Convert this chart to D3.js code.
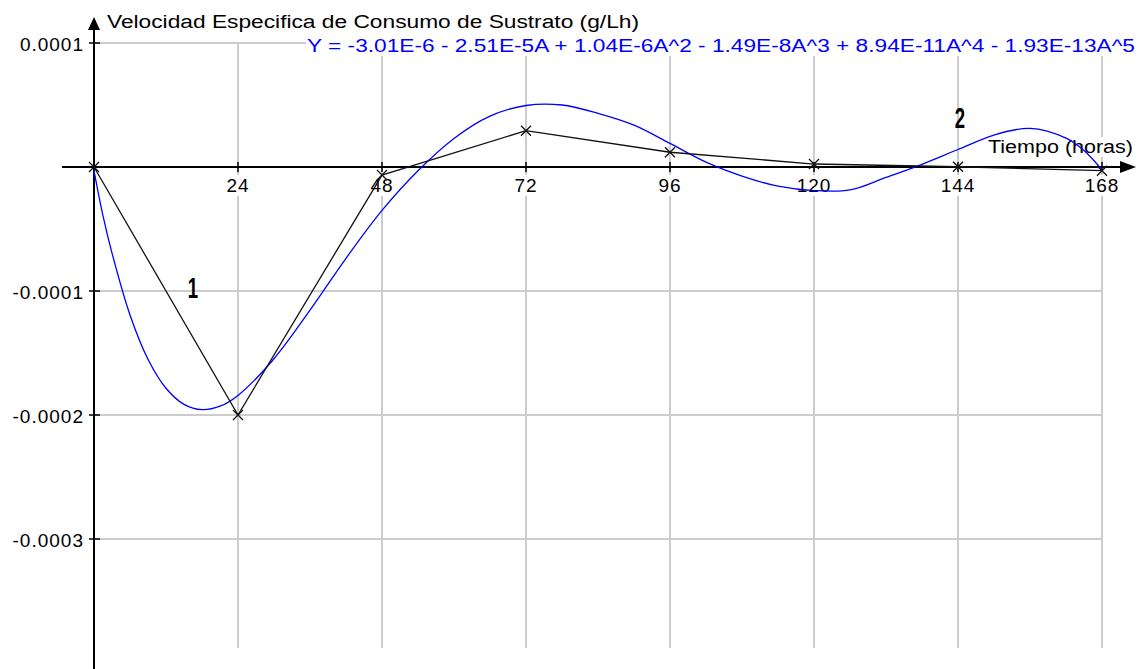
<!DOCTYPE html>
<html>
<head>
<meta charset="utf-8">
<script src="https://cdn.jsdelivr.net/npm/d3@7"></script>
<style>
  html, body { margin: 0; padding: 0; background: #fff; }
  svg { display: block; font-family: "Liberation Sans", Arial, sans-serif; }
</style>
</head>
<body>
<div id="chart"></div>
<script>
// Measured points (hours, g/Lh)
var times = [0, 24, 48, 72, 96, 120, 144, 168];
var rates = [0, -0.0002, -0.0000065, 0.0000293, 0.0000119, 0.0000024, 0.0000002, -0.000003];

// Fitted polynomial curve
var fitHours = [0, 1.5, 3, 6, 9, 12, 15, 18, 21, 24, 30, 36, 42, 48, 54, 60, 66, 72, 78, 84,
  90, 96, 102, 108, 114, 120, 126, 132, 138, 144, 150, 156, 162, 165, 168];
var fitRates = [-0.000003, -0.0000395, -0.0000694, -0.0001193, -0.000155, -0.0001784, -0.0001914,
  -0.0001957, -0.0001929, -0.0001842, -0.0001546, -0.0001155, -0.0000736, -0.000035, -0.000003,
  0.000023, 0.000041, 0.0000496, 0.00005, 0.0000432, 0.0000337, 0.000019, 0.0000039,
  -0.0000073, -0.0000155, -0.000019, -0.0000185, -0.0000084, 0.0000022, 0.0000141,
  0.0000258, 0.0000312, 0.0000233, 0.0000133, -0.0000024];

var xTicks = [24, 48, 72, 96, 120, 144, 168];
var yTicks = [0.0001, -0.0001, -0.0002, -0.0003];
var yTickLabels = ["0.0001", "-0.0001", "-0.0002", "-0.0003"];

var yTitle = "Velocidad Especifica de Consumo de Sustrato (g/Lh)";
var xTitle = "Tiempo (horas)";
var equation = "Y = -3.01E-6 - 2.51E-5A + 1.04E-6A^2 - 1.49E-8A^3 + 8.94E-11A^4 - 1.93E-13A^5";

var svgWidth = 1139;
var svgHeight = 669;

var svg = d3.select("#chart")
  .append("svg")
  .attr("width", svgWidth)
  .attr("height", svgHeight);

var x = d3.scaleLinear().domain([0, 168]).range([94, 1102]);
var y = d3.scaleLinear().domain([0.0001, -0.0003]).range([43, 539]);

var gridTop = y(0.0001);
var gridBottom = y(-0.000388);

// grid
svg.append("g").selectAll("line.v")
  .data(xTicks)
  .enter().append("line")
  .attr("x1", d => x(d)).attr("x2", d => x(d))
  .attr("y1", gridTop).attr("y2", gridBottom)
  .attr("stroke", "#cccccc").attr("stroke-width", 2);

svg.append("g").selectAll("line.h")
  .data(yTicks)
  .enter().append("line")
  .attr("x1", x(0)).attr("x2", x(168))
  .attr("y1", d => y(d)).attr("y2", d => y(d))
  .attr("stroke", "#cccccc").attr("stroke-width", 2);

// text with white background
function boxedText(g, tx, ty, str, opts) {
  var t = g.append("text")
    .attr("x", tx).attr("y", ty)
    .attr("font-size", opts.size || 18)
    .attr("fill", opts.color || "#000")
    .attr("text-anchor", opts.anchor || "start")
    .text(str);
  if (opts.length) t.attr("textLength", opts.length).attr("lengthAdjust", "spacingAndGlyphs");
  if (opts.spacing) t.attr("letter-spacing", opts.spacing);
  if (opts.bg) {
    var b = t.node().getBBox();
    g.insert("rect", "text")
      .attr("x", b.x - 1).attr("y", b.y)
      .attr("width", b.width + 2).attr("height", b.height)
      .attr("fill", "#fff");
  }
  return t;
}

var labels = svg.append("g");
xTicks.forEach(function(d) {
  var g = labels.append("g");
  boxedText(g, x(d), 192, String(d), {size: 19, anchor: "middle", spacing: 1, bg: true});
});

var eqG = svg.append("g");
boxedText(eqG, 307, 52, equation, {size: 18, color: "#0000ff", length: 828, bg: true});

var titleG = svg.append("g");
boxedText(titleG, 107, 28, yTitle, {size: 18, length: 532, bg: true});

var xtG = svg.append("g");
boxedText(xtG, 988, 153, xTitle, {size: 18, length: 145, bg: true});

yTicks.forEach(function(d, i) {
  svg.append("text")
    .attr("x", 84).attr("y", y(d) + 8)
    .attr("font-size", 19)
    .attr("letter-spacing", 1)
    .attr("text-anchor", "end")
    .text(yTickLabels[i]);
});

// axes
svg.append("line")
  .attr("x1", x(0)).attr("x2", x(0))
  .attr("y1", 26).attr("y2", 669)
  .attr("stroke", "#000").attr("stroke-width", 2);
svg.append("path")
  .attr("d", `M${x(0)},17 L${x(0) - 6},30 L${x(0) + 6},30 Z`)
  .attr("fill", "#000");

svg.append("line")
  .attr("x1", 62).attr("x2", 1126)
  .attr("y1", y(0)).attr("y2", y(0))
  .attr("stroke", "#000").attr("stroke-width", 2);
svg.append("path")
  .attr("d", `M1136,${y(0)} L1120,${y(0) - 6} L1120,${y(0) + 6} Z`)
  .attr("fill", "#000");

svg.append("g").selectAll("line")
  .data(xTicks)
  .enter().append("line")
  .attr("x1", d => x(d)).attr("x2", d => x(d))
  .attr("y1", y(0) - 5).attr("y2", y(0) + 5)
  .attr("stroke", "#000").attr("stroke-width", 1.5);

svg.append("g").selectAll("line")
  .data(yTicks)
  .enter().append("line")
  .attr("x1", x(0) - 5).attr("x2", x(0) + 6)
  .attr("y1", d => y(d)).attr("y2", d => y(d))
  .attr("stroke", "#000").attr("stroke-width", 1.5);

// fitted curve
var fitLine = d3.line()
  .x((d, i) => x(fitHours[i]))
  .y(d => y(d))
  .curve(d3.curveCatmullRom);

svg.append("path")
  .attr("d", fitLine(fitRates))
  .attr("fill", "none")
  .attr("stroke", "#0000ff")
  .attr("stroke-width", 1.3);

// measured line
var dataLine = d3.line()
  .x((d, i) => x(times[i]))
  .y(d => y(d));

svg.append("path")
  .attr("d", dataLine(rates))
  .attr("fill", "none")
  .attr("stroke", "#111")
  .attr("stroke-width", 1.3);

var marks = svg.append("g");
rates.forEach(function(d, i) {
  var cx = x(times[i]), cy = y(d);
  marks.append("path")
    .attr("d", `M${cx - 5},${cy - 5}L${cx + 5},${cy + 5}M${cx - 5},${cy + 5}L${cx + 5},${cy - 5}`)
    .attr("stroke", "#111")
    .attr("stroke-width", 1.3);
});

// curve numbers
[["1", 193, 298], ["2", 960, 128]].forEach(function(n) {
  svg.append("text")
    .attr("transform", `translate(${n[1]},${n[2]}) scale(0.62,1)`)
    .attr("text-anchor", "middle")
    .attr("font-size", 30)
    .attr("font-weight", "bold")
    .text(n[0]);
});
</script>
</body>
</html>
